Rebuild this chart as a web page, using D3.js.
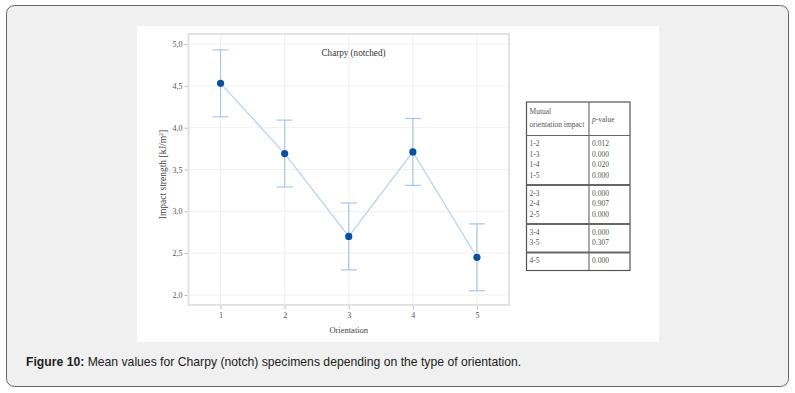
<!DOCTYPE html>
<html>
<head>
<meta charset="utf-8">
<script src="https://cdn.jsdelivr.net/npm/d3@7"></script>
<style>
  body { margin: 0; background: #fff; }
  svg { display: block; }
</style>
</head>
<body>
<svg class="svg"></svg>
<script>
// data
const orientations = [1, 2, 3, 4, 5];
const means = [4.53, 3.69, 2.70, 3.71, 2.45];
const upper = [4.93, 4.09, 3.10, 4.11, 2.85];
const lower = [4.13, 3.29, 2.30, 3.31, 2.05];
const yTicks = [2.0, 2.5, 3.0, 3.5, 4.0, 4.5, 5.0];

const pairGroups = [
  ["1-2", "1-3", "1-4", "1-5"],
  ["2-3", "2-4", "2-5"],
  ["3-4", "3-5"],
  ["4-5"]
];
const pValues = [
  ["0.012", "0.000", "0.020", "0.000"],
  ["0.000", "0.907", "0.000"],
  ["0.000", "0.307"],
  ["0.000"]
];

const W = 795, H = 393;
const serif = "'Liberation Serif', 'DejaVu Serif', serif";

const svg = d3.select(".svg").attr("width", W).attr("height", H);

// outer panel + white figure area
svg.append("rect")
  .attr("x", 6.5).attr("y", 5.5)
  .attr("width", 782).attr("height", 381)
  .attr("rx", 8)
  .attr("fill", "#f0f0f0")
  .attr("stroke", "#666");

svg.append("rect")
  .attr("x", 137).attr("y", 26)
  .attr("width", 522).attr("height", 316)
  .attr("fill", "#fff");

// chart
const frame = { left: 188.5, right: 509, top: 34, bottom: 305 };

const x = d3.scaleLinear().domain([0.5, 5.5]).range([frame.left, frame.right]);
const y = d3.scaleLinear().domain([1.88, 5.12]).range([frame.bottom, frame.top]);

const g = svg.append("g");

// grid
g.selectAll("line.hgrid")
  .data(yTicks)
  .join("line")
  .attr("class", "hgrid")
  .attr("x1", frame.left).attr("x2", frame.right)
  .attr("y1", d => y(d)).attr("y2", d => y(d))
  .attr("stroke", "#f0f0f0");

g.selectAll("line.vgrid")
  .data(orientations)
  .join("line")
  .attr("class", "vgrid")
  .attr("x1", d => x(d)).attr("x2", d => x(d))
  .attr("y1", frame.top).attr("y2", frame.bottom)
  .attr("stroke", "#f0f0f0");

// frame
g.append("rect")
  .attr("x", frame.left).attr("y", frame.top)
  .attr("width", frame.right - frame.left)
  .attr("height", frame.bottom - frame.top)
  .attr("fill", "none")
  .attr("stroke", "#e2e2e2")
  .attr("stroke-width", 2);

// axes
const yAxis = d3.axisLeft(y)
  .tickValues(yTicks)
  .tickSize(3)
  .tickPadding(2)
  .tickFormat(d => d3.format(".1f")(d).replace(".", ","));

const xAxis = d3.axisBottom(x)
  .tickValues(orientations)
  .tickSize(3)
  .tickPadding(3)
  .tickFormat(d3.format("d"));

g.append("g")
  .attr("transform", `translate(${frame.left - 1},0)`)
  .call(yAxis)
  .call(a => a.select(".domain").remove())
  .call(a => a.selectAll("line").attr("stroke", "#bbb"))
  .call(a => a.selectAll("text").attr("font-family", serif).attr("font-size", 8).attr("fill", "#555"));

g.append("g")
  .attr("transform", `translate(0,${frame.bottom + 1})`)
  .call(xAxis)
  .call(a => a.select(".domain").remove())
  .call(a => a.selectAll("line").attr("stroke", "#bbb"))
  .call(a => a.selectAll("text").attr("font-family", serif).attr("font-size", 8).attr("fill", "#555"));

// labels
g.append("text")
  .attr("x", (frame.left + frame.right) / 2)
  .attr("y", 333)
  .attr("text-anchor", "middle")
  .attr("font-family", serif).attr("font-size", 8.5).attr("fill", "#444")
  .text("Orientation");

g.append("text")
  .attr("transform", `translate(166,${(frame.top + frame.bottom) / 2 + 5}) rotate(-90)`)
  .attr("text-anchor", "middle")
  .attr("font-family", serif).attr("font-size", 9.5).attr("fill", "#444")
  .html("Impact strength [kJ/m<tspan dy='-3' font-size='6'>2</tspan><tspan dy='3'>]</tspan>");

g.append("text")
  .attr("x", 353.5).attr("y", 56)
  .attr("text-anchor", "middle")
  .attr("font-family", serif).attr("font-size", 10.5).attr("fill", "#333")
  .attr("textLength", 64).attr("lengthAdjust", "spacingAndGlyphs")
  .text("Charpy (notched)");

// data
const rows = orientations.map((o, i) => ({ o, mean: means[i], hi: upper[i], lo: lower[i] }));
const barColor = "#a8c6ea";

g.selectAll("line.err")
  .data(rows)
  .join("line")
  .attr("class", "err")
  .attr("x1", d => x(d.o)).attr("x2", d => x(d.o))
  .attr("y1", d => y(d.hi)).attr("y2", d => y(d.lo))
  .attr("stroke", barColor).attr("stroke-width", 1.2);

["hi", "lo"].forEach(k => {
  g.selectAll(`line.cap-${k}`)
    .data(rows)
    .join("line")
    .attr("class", `cap-${k}`)
    .attr("x1", d => x(d.o) - 8).attr("x2", d => x(d.o) + 8)
    .attr("y1", d => y(d[k])).attr("y2", d => y(d[k]))
    .attr("stroke", barColor).attr("stroke-width", 1.2);
});

g.append("path")
  .datum(rows)
  .attr("fill", "none")
  .attr("stroke", "#b8d2ef")
  .attr("stroke-width", 1.2)
  .attr("d", d3.line().x(d => x(d.o)).y(d => y(d.mean)));

g.selectAll("circle.pt")
  .data(rows)
  .join("circle")
  .attr("class", "pt")
  .attr("cx", d => x(d.o)).attr("cy", d => y(d.mean))
  .attr("r", 3.6)
  .attr("fill", "#0b4fa0");

// p-value table
const tbl = { left: 526.5, mid: 589, right: 630, top: 102, headBottom: 135.5, rowH: 10.5, pad: 7.5 };
const tg = svg.append("g");
const txtStyle = sel => sel.attr("font-family", serif).attr("font-size", 7.5).attr("fill", "#555");

tg.append("text").attr("x", tbl.left + 3).attr("y", 114).call(txtStyle).text("Mutual");
tg.append("text").attr("x", tbl.left + 3).attr("y", 126.5).call(txtStyle).text("orientation impact");
tg.append("text").attr("x", tbl.mid + 3).attr("y", 121.5).call(txtStyle)
  .html("<tspan font-style='italic'>p</tspan>-value");

let yCur = tbl.headBottom;
const seps = [];
pairGroups.forEach((grp, gi) => {
  const start = yCur;
  grp.forEach((pair, ri) => {
    const ty = start + tbl.pad / 2 + 7 + ri * tbl.rowH;
    tg.append("text").attr("x", tbl.left + 3).attr("y", ty).call(txtStyle).text(pair);
    tg.append("text").attr("x", tbl.mid + 3).attr("y", ty).call(txtStyle).text(pValues[gi][ri]);
  });
  yCur = start + grp.length * tbl.rowH + tbl.pad;
  seps.push(yCur);
});

const tblBottom = seps[seps.length - 1];
tg.append("rect")
  .attr("x", tbl.left).attr("y", tbl.top)
  .attr("width", tbl.right - tbl.left).attr("height", tblBottom - tbl.top)
  .attr("fill", "none").attr("stroke", "#555").attr("stroke-width", 1.2);

tg.append("line")
  .attr("x1", tbl.mid).attr("x2", tbl.mid)
  .attr("y1", tbl.top).attr("y2", tblBottom)
  .attr("stroke", "#555").attr("stroke-width", 1);

tg.selectAll("line.sep")
  .data([tbl.headBottom, ...seps.slice(0, -1)])
  .join("line")
  .attr("class", "sep")
  .attr("x1", tbl.left).attr("x2", tbl.right)
  .attr("y1", d => d).attr("y2", d => d)
  .attr("stroke", "#666").attr("stroke-width", (d, i) => i === 0 ? 1 : 2);

// caption
const cap = svg.append("text")
  .attr("x", 26).attr("y", 366)
  .attr("font-family", "'Liberation Sans', Arial, sans-serif")
  .attr("font-size", 12.2).attr("fill", "#222");
cap.append("tspan").attr("font-weight", "bold").text("Figure 10:");
cap.append("tspan").text(" Mean values for Charpy (notch) specimens depending on the type of orientation.");
</script>
</body>
</html>
